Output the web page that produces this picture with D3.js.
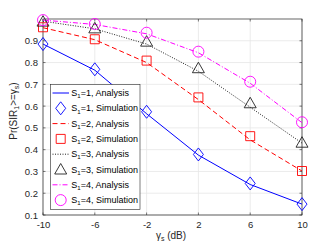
<!DOCTYPE html>
<html><head><meta charset="utf-8">
<script src="https://cdn.jsdelivr.net/npm/d3@7"></script>
<style>body{margin:0;background:#fff}svg{display:block}text{font-family:"Liberation Sans",Arial,sans-serif}</style>
</head><body><svg id="c" width="333" height="250"></svg>
<script>
const xValues = [-10, -6, -2, 2, 6, 10];
const s1Analysis = [0.885, 0.765, 0.565, 0.375, 0.24, 0.15];
const s1Sim = [0.885, 0.769, 0.574, 0.378, 0.245, 0.15];
const s2Analysis = [0.96, 0.905, 0.80, 0.63, 0.445, 0.302];
const s2Sim = [0.962, 0.907, 0.809, 0.64, 0.462, 0.302];
const s3Analysis = [0.99, 0.955, 0.885, 0.76, 0.595, 0.43];
const s3Sim = [0.988, 0.957, 0.896, 0.774, 0.613, 0.432];
const s4Analysis = [0.995, 0.975, 0.932, 0.845, 0.705, 0.524];
const s4Sim = [0.995, 0.977, 0.937, 0.85, 0.712, 0.526];
const yTicks = [0.1,0.2,0.3,0.4,0.5,0.6,0.7,0.8,0.9];
const legendLabels = ["S1=1, Analysis","S1=1, Simulation","S1=2, Analysis","S1=2, Simulation","S1=3, Analysis","S1=3, Simulation","S1=4, Analysis","S1=4, Simulation"];

const svg = d3.select("#c");
const L=43, R=302, T=19, B=215;
const x = d3.scaleLinear().domain([-10,10]).range([L,R]);
const y = d3.scaleLinear().domain([0.1,1]).range([B,T]);

// grid
const g = svg.append("g");
xValues.forEach(v=>g.append("line").attr("x1",x(v)).attr("x2",x(v)).attr("y1",T).attr("y2",B).attr("stroke","#e6e6e6").attr("stroke-width",0.8));
yTicks.forEach(v=>g.append("line").attr("x1",L).attr("x2",R).attr("y1",y(v)).attr("y2",y(v)).attr("stroke","#e6e6e6").attr("stroke-width",0.8));

// axes
const ax = svg.append("g").attr("transform",`translate(0,${B})`).call(d3.axisBottom(x).tickValues(xValues).tickSize(0).tickPadding(6).tickFormat(d=>String(d)));
const ay = svg.append("g").attr("transform",`translate(${L},0)`).call(d3.axisLeft(y).tickValues(yTicks).tickSize(0).tickPadding(5).tickFormat(d=>d.toFixed(1)));
[ax,ay].forEach(a=>{a.select(".domain").remove();a.selectAll("text").attr("font-size",9.5).attr("fill","#262626");});
// ticks inward
xValues.forEach(v=>{svg.append("line").attr("x1",x(v)).attr("x2",x(v)).attr("y1",B).attr("y2",B-2.5).attr("stroke","#262626").attr("stroke-width",0.6);
 svg.append("line").attr("x1",x(v)).attr("x2",x(v)).attr("y1",T).attr("y2",T+2.5).attr("stroke","#262626").attr("stroke-width",0.6);});
yTicks.forEach(v=>{svg.append("line").attr("x1",L).attr("x2",L+2.5).attr("y1",y(v)).attr("y2",y(v)).attr("stroke","#262626").attr("stroke-width",0.6);
 svg.append("line").attr("x1",R).attr("x2",R-2.5).attr("y1",y(v)).attr("y2",y(v)).attr("stroke","#262626").attr("stroke-width",0.6);});
svg.append("rect").attr("x",L).attr("y",T).attr("width",R-L).attr("height",B-T).attr("fill","none").attr("stroke","#262626").attr("stroke-width",0.7);

const series = [
 {a:s1Analysis,s:s1Sim,c:"#0000ff",dash:null,m:"diamond"},
 {a:s2Analysis,s:s2Sim,c:"#ff0000",dash:"5,3",m:"square"},
 {a:s3Analysis,s:s3Sim,c:"#222222",dash:"1,1.5",m:"triangle"},
 {a:s4Analysis,s:s4Sim,c:"#ff00ff",dash:"5,2,1,2",m:"circle"}
];
const line = d3.line().x((d,i)=>x(xValues[i])).y(d=>y(d));
function marker(sel,type,cx,cy,c){
  let p;
  if(type==="diamond") p=`M${cx},${cy-6.5}L${cx+5},${cy}L${cx},${cy+6.5}L${cx-5},${cy}Z`;
  else if(type==="square") p=`M${cx-4.5},${cy-4.5}h9v9h-9Z`;
  else if(type==="triangle") p=`M${cx},${cy-6}L${cx+6},${cy+4.5}L${cx-6},${cy+4.5}Z`;
  if(type==="circle") sel.append("circle").attr("cx",cx).attr("cy",cy).attr("r",5.5).attr("fill","none").attr("stroke",c).attr("stroke-width",0.9);
  else sel.append("path").attr("d",p).attr("fill","none").attr("stroke",c).attr("stroke-width",0.9);
}
const plot = svg.append("g");
series.forEach(s=>{
  plot.append("path").datum(s.a).attr("d",line).attr("fill","none").attr("stroke",s.c).attr("stroke-width",1).attr("stroke-dasharray",s.dash);
});
series.forEach(s=>{
  s.s.forEach((v,i)=>marker(plot,s.m,x(xValues[i]),y(v),s.c));
});

// legend
const lg = svg.append("g");
lg.append("rect").attr("x",50.5).attr("y",84.5).attr("width",89.5).attr("height",125).attr("fill","#fff").attr("stroke","#262626").attr("stroke-width",0.6);
legendLabels.forEach((t,i)=>{
  const cy = 93 + i*15.3;
  const s = series[Math.floor(i/2)];
  if(i%2===0){
    lg.append("line").attr("x1",52.5).attr("x2",69).attr("y1",cy).attr("y2",cy).attr("stroke",s.c).attr("stroke-width",1).attr("stroke-dasharray",s.dash);
  } else marker(lg,s.m,60.7,cy,s.c);
  const tx = lg.append("text").attr("x",71.3).attr("y",cy+3).attr("font-size",9).attr("fill","#000");
  tx.append("tspan").text("S");
  tx.append("tspan").attr("font-size",6).attr("dy",2.2).text("1");
  tx.append("tspan").attr("dy",-2.2).text(t.slice(2));
});

// axis labels
const xl = svg.append("text").attr("x",171).attr("y",238.5).attr("text-anchor","middle").attr("font-size",10).attr("fill","#262626");
xl.append("tspan").text("γ");
xl.append("tspan").attr("font-size",7).attr("dy",2).text("s");
xl.append("tspan").attr("dy",-2).text(" (dB)");
const yl = svg.append("text").attr("transform","translate(16.5,111) rotate(-90)").attr("text-anchor","middle").attr("font-size",10).attr("fill","#262626");
yl.append("tspan").text("Pr(SIR");
yl.append("tspan").attr("font-size",7).attr("dy",2).text("1");
yl.append("tspan").attr("dy",-2).text(">=γ");
yl.append("tspan").attr("font-size",7).attr("dy",2).text("s");
yl.append("tspan").attr("dy",-2).text(")");
</script></body></html>
